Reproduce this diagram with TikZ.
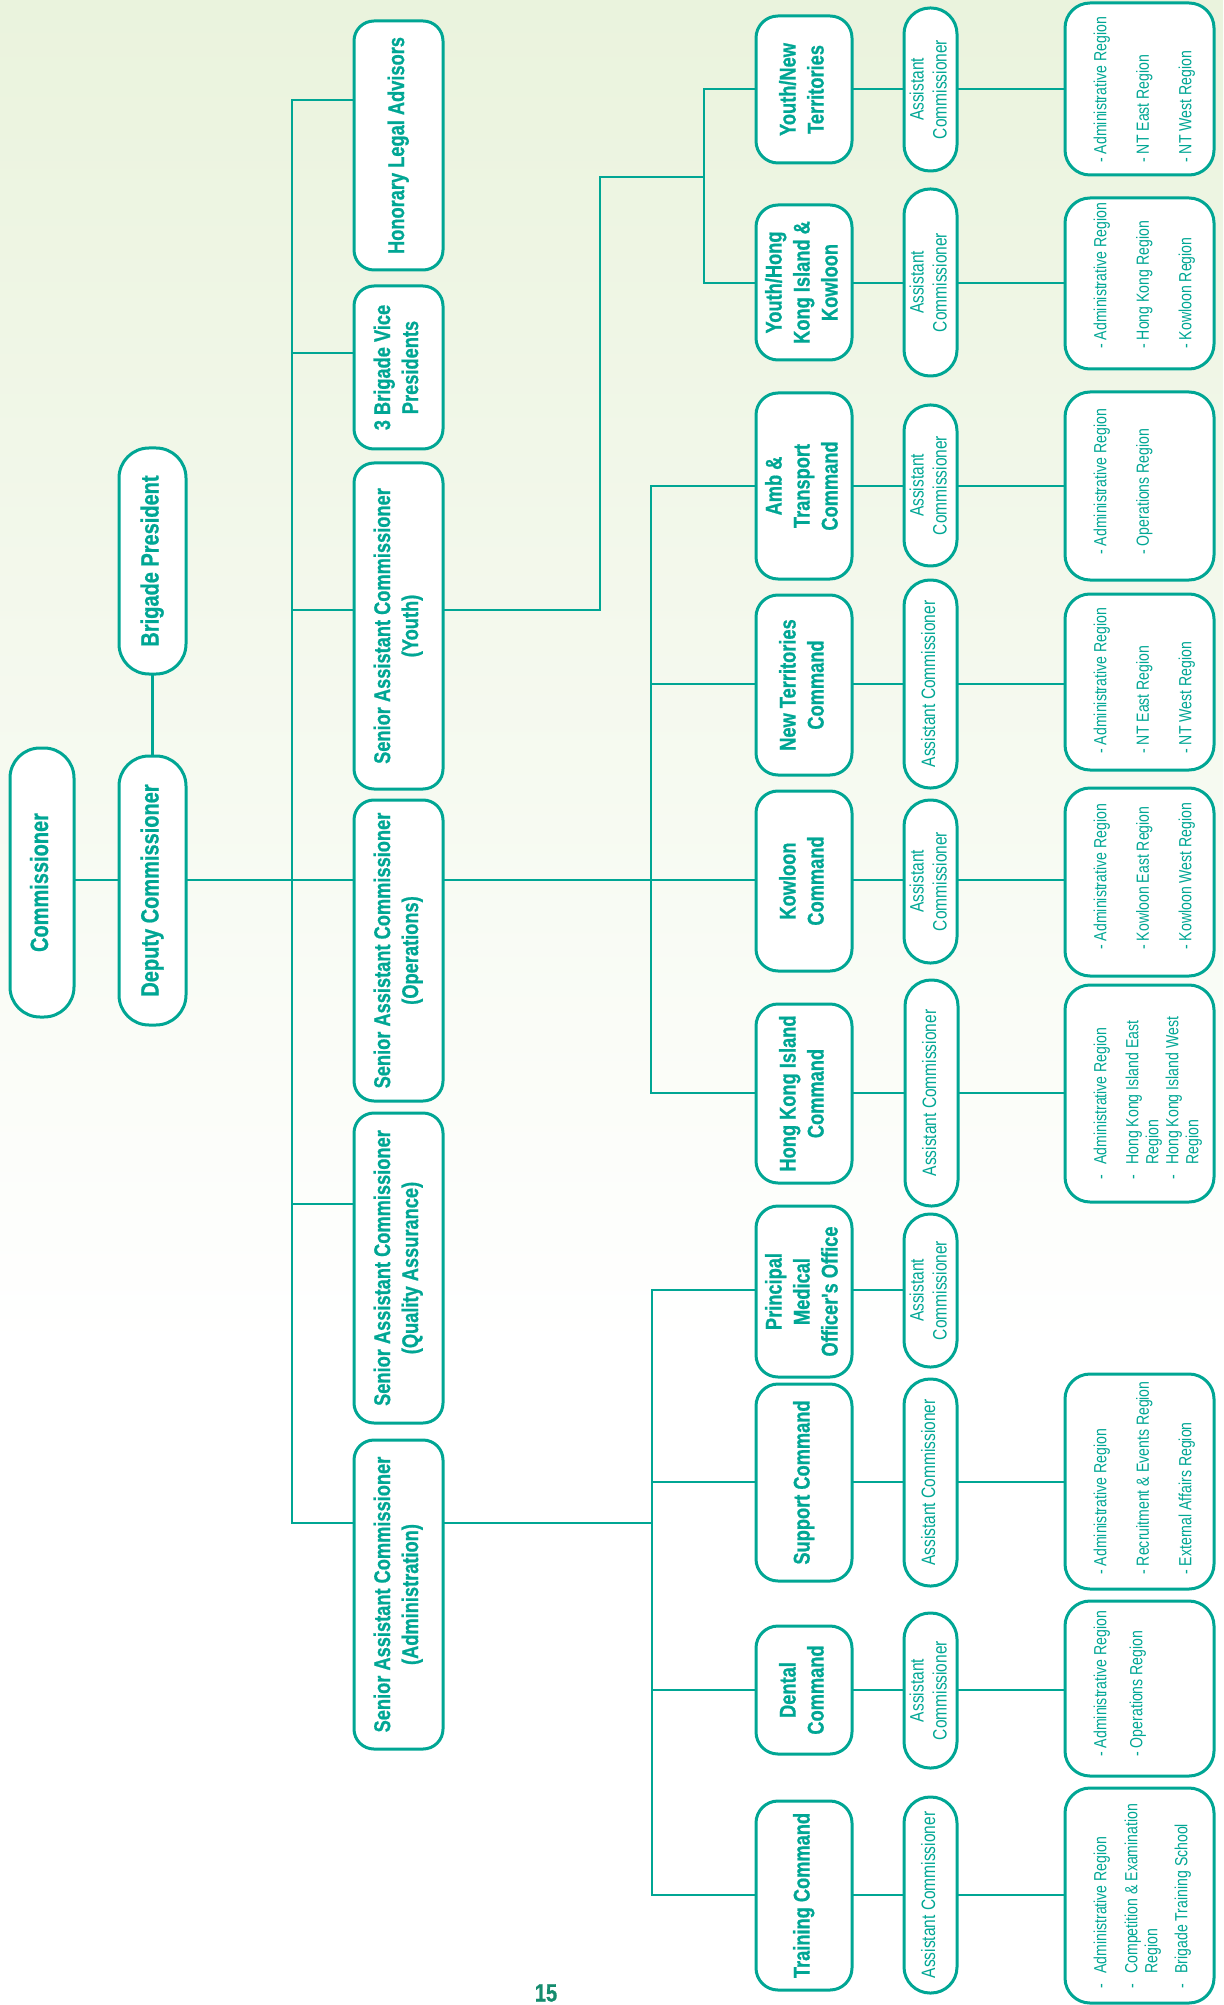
\documentclass[tikz,border=0pt]{standalone}
\usepackage{fontspec}
\usepackage{graphicx}
\newfontfamily\condf[FakeStretch=0.8, BoldFeatures={FakeBold=0.8}]{Liberation Sans}
\definecolor{tl}{RGB}{0,166,148}
\definecolor{bgtop}{RGB}{234,243,221}
\definecolor{pgnum}{RGB}{20,140,110}
\newcommand\rot[1]{\rotatebox{90}{\begin{tabular}{@{}c@{}}#1\end{tabular}}}
\newcommand\bx[7]{\node[#2, minimum width={(#5-#3)*0.5pt}, minimum height={(#6-#4)*0.5pt}] (#1) at ({(#3+#5)/2},{(#4+#6)/2}) {\rot{#7}};}
\newcommand\rg[7]{%
  \node[regbox, minimum width={(#4-#2)*0.5pt}, minimum height={(#5-#3)*0.5pt}] (#1) at ({(#2+#4)/2},{(#3+#5)/2}) {};
  \node[regtxt, anchor=south west] (#1t) at ({#2+27},{#5-#6}) {\rotatebox{90}{\begin{tabular}{@{}l@{}}#7\end{tabular}}};}
\newcommand\gp{\\[11.25pt]}
\newcommand\hy{\makebox[7.5pt][l]{-}}
\newcommand\ind{\hspace*{7.5pt}}
\tikzset{
  base/.style={draw=tl, fill=white, line width=1.5pt, inner sep=0pt, text=tl},
  topbox/.style={base, rounded corners=15pt, font=\condf\bfseries\fontsize{12.5}{15}\selectfont},
  sacbox/.style={base, rounded corners=10pt, font=\condf\bfseries\fontsize{11.4}{14}\selectfont},
  cmdbox/.style={base, rounded corners=11pt, font=\condf\bfseries\fontsize{11.4}{14}\selectfont},
  acbox/.style={base, rounded corners=13pt, font=\condf\fontsize{9.7}{11.5}\selectfont},
  regbox/.style={base, rounded corners=12.5pt},
  regtxt/.style={inner sep=0pt, text=tl, font=\condf\fontsize{8.8}{10}\selectfont},
  conn/.style={draw=tl, line width=1.4pt, line cap=rect},
}
\newcommand\row[4]{\draw[conn] (#1.east |- 0,#4) -- (#2.west |- 0,#4); \draw[conn] (#2.east |- 0,#4) -- (#3.west |- 0,#4);}
\begin{document}
\begin{tikzpicture}[x=0.5pt,y=-0.5pt]
\useasboundingbox (0,0) rectangle (1223,2005);
\fill[white] (0,0) rectangle (1223,2005);
\shade[top color=bgtop, bottom color=white] (0,0) rectangle (1223,1350);

% column 1
\bx{comm}{topbox}{10}{748}{74}{1017}{Commissioner}
\bx{dep}{topbox}{119}{756}{186}{1025}{Deputy Commissioner}
\bx{pres}{topbox}{119}{448}{186}{674}{Brigade President}

% column 2
\bx{hla}{sacbox}{354}{21}{443}{270}{Honorary Legal Advisors}
\bx{bvp}{sacbox}{354}{286}{443}{449}{3 Brigade Vice\\Presidents}
\bx{sacy}{sacbox}{354}{463}{443}{789}{Senior Assistant Commissioner\\(Youth)}
\bx{saco}{sacbox}{354}{800}{443}{1101}{Senior Assistant Commissioner\\(Operations)}
\bx{sacq}{sacbox}{354}{1113}{443}{1423}{Senior Assistant Commissioner\\(Quality Assurance)}
\bx{saca}{sacbox}{354}{1440}{443}{1749}{Senior Assistant Commissioner\\(Administration)}

% column 3
\bx{cynt}{cmdbox}{756}{16}{852}{163}{Youth/New\\Territories}
\bx{cyhk}{cmdbox}{756}{205}{852}{360}{Youth/Hong\\Kong Island \&\\Kowloon}
\bx{camb}{cmdbox}{756}{393}{852}{579}{Amb \&\\Transport\\Command}
\bx{cnt}{cmdbox}{756}{595}{852}{775}{New Territories\\Command}
\bx{ckw}{cmdbox}{756}{791}{852}{971}{Kowloon\\Command}
\bx{chk}{cmdbox}{756}{1004}{852}{1183}{Hong Kong Island\\Command}
\bx{cpmo}{cmdbox}{756}{1206}{852}{1377}{Principal\\Medical\\Officer's Office}
\bx{csup}{cmdbox}{756}{1384}{852}{1581}{Support Command}
\bx{cden}{cmdbox}{756}{1626}{852}{1754}{Dental\\Command}
\bx{ctrn}{cmdbox}{756}{1801}{852}{1990}{Training Command}

% column 4
\bx{aynt}{acbox}{904}{8}{957}{171}{Assistant\\Commissioner}
\bx{ayhk}{acbox}{904}{189}{957}{376}{Assistant\\Commissioner}
\bx{aamb}{acbox}{904}{405}{957}{566}{Assistant\\Commissioner}
\bx{ant}{acbox}{904}{580}{957}{788}{Assistant Commissioner}
\bx{akw}{acbox}{904}{800}{957}{963}{Assistant\\Commissioner}
\bx{ahk}{acbox}{905}{980}{958}{1206}{Assistant Commissioner}
\bx{apmo}{acbox}{904}{1214}{957}{1367}{Assistant\\Commissioner}
\bx{asup}{acbox}{904}{1379}{957}{1586}{Assistant Commissioner}
\bx{aden}{acbox}{904}{1613}{957}{1768}{Assistant\\Commissioner}
\bx{atrn}{acbox}{904}{1797}{957}{1993}{Assistant Commissioner}

% column 5
\rg{rynt}{1065}{3}{1214}{175}{12}{- Administrative Region\gp - NT East Region\gp - NT West Region}
\rg{ryhk}{1065}{198}{1214}{369}{20}{- Administrative Region\gp - Hong Kong Region\gp - Kowloon Region}
\rg{ramb}{1065}{392}{1214}{580}{25}{- Administrative Region\gp - Operations Region}
\rg{rnt}{1065}{594}{1214}{770}{16}{- Administrative Region\gp - NT East Region\gp - NT West Region}
\rg{rkw}{1065}{788}{1214}{976}{26}{- Administrative Region\gp - Kowloon East Region\gp - Kowloon West Region}
\rg{rhk}{1065}{985}{1214}{1202}{22}{\hy Administrative Region\\[6pt] \hy Hong Kong Island East\\ \ind Region\\ \hy Hong Kong Island West\\ \ind Region}
\rg{rsup}{1065}{1374}{1214}{1589}{14}{- Administrative Region\gp - Recruitment \& Events Region\gp - External Affairs Region}
\rg{rden}{1065}{1601}{1214}{1776}{19}{- Administrative Region\\[8pt] - Operations Region}
\rg{rtrn}{1065}{1788}{1214}{2003}{14}{\hy Administrative Region\\[5.5pt] \hy Competition \& Examination\\ \ind Region\\[5pt] \hy Brigade Training School}

% page number
\node[inner sep=0pt, text=pgnum, font=\condf\bfseries\fontsize{12.5}{14}\selectfont] (pg) at (546,1993) {15};

% connectors
\draw[conn] (comm.east |- 0,880) -- (dep.west |- 0,880);
\draw[conn] (pres.south) -- (dep.north);
\draw[conn] (dep.east |- 0,880) -- (saco.west |- 0,880);
\draw[conn] (292,100) -- (292,1523);
\draw[conn] (292,100) -- (hla.west |- 0,100);
\draw[conn] (292,353) -- (bvp.west |- 0,353);
\draw[conn] (292,610) -- (sacy.west |- 0,610);
\draw[conn] (292,1204) -- (sacq.west |- 0,1204);
\draw[conn] (292,1523) -- (saca.west |- 0,1523);

% youth
\draw[conn] (sacy.east |- 0,610) -- (600,610) -- (600,177) -- (704,177);
\draw[conn] (704,89) -- (704,283);
\draw[conn] (704,89) -- (cynt.west |- 0,89);
\draw[conn] (704,283) -- (cyhk.west |- 0,283);
\row{cynt}{aynt}{rynt}{89}
\row{cyhk}{ayhk}{ryhk}{283}

% operations
\draw[conn] (saco.east |- 0,880) -- (ckw.west |- 0,880);
\draw[conn] (651,486) -- (651,1093);
\draw[conn] (651,486) -- (camb.west |- 0,486);
\draw[conn] (651,684) -- (cnt.west |- 0,684);
\draw[conn] (651,1093) -- (chk.west |- 0,1093);
\row{camb}{aamb}{ramb}{486}
\row{cnt}{ant}{rnt}{684}
\row{ckw}{akw}{rkw}{880}
\row{chk}{ahk}{rhk}{1093}

% administration
\draw[conn] (saca.east |- 0,1523) -- (652,1523);
\draw[conn] (652,1290) -- (652,1895);
\draw[conn] (652,1290) -- (cpmo.west |- 0,1290);
\draw[conn] (652,1482) -- (csup.west |- 0,1482);
\draw[conn] (652,1690) -- (cden.west |- 0,1690);
\draw[conn] (652,1895) -- (ctrn.west |- 0,1895);
\draw[conn] (cpmo.east |- 0,1290) -- (apmo.west |- 0,1290);
\row{csup}{asup}{rsup}{1482}
\row{cden}{aden}{rden}{1690}
\row{ctrn}{atrn}{rtrn}{1895}
\end{tikzpicture}
\end{document}
